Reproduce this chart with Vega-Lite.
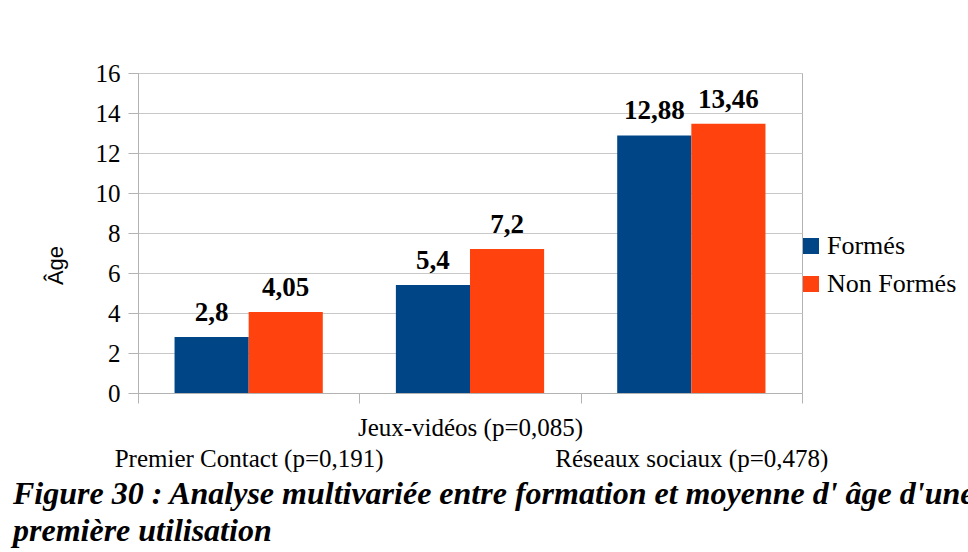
{
  "$schema": "https://vega.github.io/schema/vega-lite/v6.json",
  "width": 664,
  "height": 320,
  "autosize": {"type": "none"},
  "padding": {"left": 138, "top": 73, "right": 166, "bottom": 159},
  "background": "white",
  "config": {
    "locale": {"number": {"decimal": ",", "thousands": " ", "grouping": [3], "currency": ["", " €"]}},
    "view": {"stroke": "#b3b3b3", "strokeWidth": 1},
    "axis": {"labelFont": "Liberation Serif", "labelColor": "#000000", "labelFontSize": 25, "domainColor": "#b3b3b3", "tickColor": "#b3b3b3", "gridColor": "#c8c8c8", "tickSize": 10}
  },
  "title": {
    "text": ["Figure 30 : Analyse multivariée entre formation et moyenne d' âge d'une", "première utilisation"],
    "orient": "bottom",
    "anchor": "start",
    "frame": "group",
    "dx": -125,
    "offset": 8,
    "font": "Liberation Serif",
    "fontSize": 32,
    "fontStyle": "italic",
    "fontWeight": "bold",
    "color": "#000000",
    "lineHeight": 37
  },
  "data": {
    "values": [
      {"cat": "Premier Contact (p=0,191)", "group": "Formés", "value": 2.8},
      {"cat": "Premier Contact (p=0,191)", "group": "Non Formés", "value": 4.05},
      {"cat": "Jeux-vidéos (p=0,085)", "group": "Formés", "value": 5.4},
      {"cat": "Jeux-vidéos (p=0,085)", "group": "Non Formés", "value": 7.2},
      {"cat": "Réseaux sociaux (p=0,478)", "group": "Formés", "value": 12.88},
      {"cat": "Réseaux sociaux (p=0,478)", "group": "Non Formés", "value": 13.46}
    ]
  },
  "encoding": {
    "x": {
      "field": "cat",
      "type": "nominal",
      "sort": null,
      "scale": {"paddingInner": 0, "paddingOuter": 0},
      "axis": {
        "title": null,
        "labelAngle": 0,
        "tickBand": "extent",
        "labelOverlap": false,
        "labelLimit": 0,
        "labelBaseline": "alphabetic",
        "labelPadding": 32,
        "labelLineHeight": 31,
        "labelExpr": "datum.label == 'Jeux-vidéos (p=0,085)' ? datum.label : ['', datum.label]"
      }
    },
    "xOffset": {"field": "group", "type": "nominal", "scale": {"paddingOuter": 0.493, "paddingInner": 0}},
    "y": {
      "field": "value",
      "type": "quantitative",
      "scale": {"domain": [0, 16], "nice": false},
      "axis": {
        "title": "Âge",
        "titleFont": "Liberation Sans",
        "titleFontSize": 22,
        "titleFontWeight": "normal",
        "titleColor": "#000000",
        "titleX": -83,
        "titleY": 192,
        "titleAlign": "center",
        "titleBaseline": "middle",
        "titleAngle": -90,
        "values": [0, 2, 4, 6, 8, 10, 12, 14, 16],
        "labelPadding": 8,
        "grid": true
      }
    }
  },
  "layer": [
    {
      "mark": {"type": "bar"},
      "encoding": {
        "color": {
          "field": "group",
          "type": "nominal",
          "scale": {"range": ["#004586", "#ff420e"]},
          "legend": {
            "title": null,
            "orient": "none",
            "legendX": 660,
            "legendY": 160,
            "padding": 0,
            "symbolType": "square",
            "symbolSize": 256,
            "symbolStrokeWidth": 0,
            "labelFont": "Liberation Serif",
            "labelFontSize": 26,
            "labelColor": "#000000",
            "labelOffset": 3,
            "rowPadding": 12,
            "labelLimit": 0
          }
        }
      }
    },
    {
      "mark": {"type": "text", "dy": -16, "baseline": "alphabetic", "font": "Liberation Serif", "fontWeight": "bold", "fontSize": 27, "color": "#000000"},
      "encoding": {
        "text": {"field": "value", "type": "quantitative", "format": "~g"}
      }
    }
  ]
}
